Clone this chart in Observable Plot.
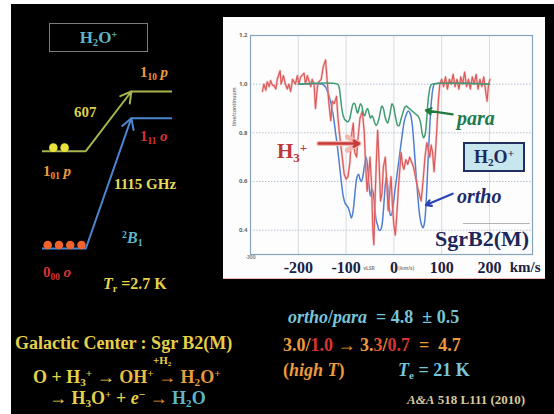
<!DOCTYPE html>
<html>
<head>
<meta charset="utf-8">
<script src="https://cdn.jsdelivr.net/npm/d3@7"></script>
<script src="https://cdn.jsdelivr.net/npm/@observablehq/plot@0.6"></script>
<style>
  body { margin: 0; background: #fff; }
  #slide { position: relative; width: 554px; height: 414px; overflow: hidden; background: #fff;
           font-family: "Liberation Serif", "DejaVu Serif", serif; font-weight: bold; }
  #black { position: absolute; left: 11px; top: 4px; right: 0; bottom: 0; background: #000; }
  #panel { position: absolute; left: 223px; top: 17px; width: 322px; height: 261px; background: #fdfdfd;
           border-bottom: 1px solid #f0b8a8; }
  .t { position: absolute; white-space: pre; line-height: 1; }
  .t sub { font-size: 0.62em; vertical-align: -0.3em; line-height: 0; }
  .t sup { font-size: 0.62em; vertical-align: 0.5em; line-height: 0; }
  .box { position: absolute; display: flex; align-items: center; justify-content: center; line-height: 1; }
  svg { position: absolute; left: 0; top: 0; }
</style>
</head>
<body>
<div id="slide">
  <div id="black"></div>
  <div id="panel"></div>
</div>
<script>
// H3+ absorption, line/continuum vs v_LSR (km/s)
const vH3 = [
  -275,-272,-268,-265,-261,-258,-254,-251,-247,-244,
  -238,-236,-231,-227,-223,-220,-216,-212,-206,-202,
  -199,-195,-188,-185,-181,-174,-171,-167,-164,-160,
  -157,-152,-148,-143,-139,-136,-132,-129,-125,-120,
  -117,-113,-108,-104,-100,-96,-92,-88,-85,-82,
  -78,-75,-71,-66,-62,-59,-56,-53,-50,-47,
  -44,-42,-39,-36,-34,-31,-28,-25,-22,-18,
  -15,-12,-9,-6,-3,0,3,6,9,12,
  15,18,21,25,29,33,37,41,45,49,
  53,57,61,65,69,72,75,78,81,84,
  87,90,93,96,100,104,108,112,116,120,
  124,128,132,136,140,144,148,152,156,160,
  164,168,172,176,180,184,188,192,195,198,201
];
const yH3 = [
  0.97,1.00,0.975,1.01,0.99,1.015,0.995,0.995,0.98,1.02,
  1.055,1.0,1.035,1.0,0.98,1.0,0.97,1.02,1.0,1.035,
  1.0,1.03,1.045,1.0,1.035,0.99,1.02,1.0,0.90,0.99,
  1.01,1.02,1.07,1.10,1.0,0.92,0.85,0.93,0.92,0.95,
  0.86,0.78,0.70,0.63,0.61,0.62,0.68,0.80,0.84,0.72,
  0.70,0.78,0.86,0.89,0.80,0.66,0.56,0.62,0.70,0.60,
  0.40,0.34,0.55,0.72,0.81,0.68,0.52,0.55,0.66,0.70,
  0.60,0.48,0.55,0.62,0.50,0.42,0.38,0.46,0.56,0.64,
  0.72,0.67,0.65,0.69,0.67,0.70,0.68,0.66,0.62,0.58,
  0.55,0.52,0.60,0.70,0.76,0.73,0.70,0.75,0.72,0.64,
  0.72,0.82,0.93,1.0,1.02,0.99,1.03,0.98,1.02,1.0,
  1.04,0.99,1.02,0.98,1.03,1.0,1.05,0.99,1.02,0.98,
  1.03,1.0,1.04,0.98,1.02,0.99,1.03,0.97,0.93,1.0,1.02
];

// ortho-H2O+ (1115 GHz) absorption
const vOrtho = [
  -200,-150,-146,-142,-138,-134,-130,-126,-122,-118,
  -114,-110,-106,-102,-98,-95,-92,-89,-86,-83,
  -80,-77,-74,-71,-68,-65,-62,-58,-55,-52,
  -49,-46,-43,-40,-37,-34,-31,-28,-25,-22,
  -19,-16,-13,-10,-7,-4,-1,2,6,10,
  14,18,22,26,30,34,38,42,46,50,
  54,58,61,64,67,70,73,76,79,82,
  85,200
];
const yOrtho = [
  1,1,0.995,0.985,0.965,0.94,0.905,0.86,0.80,0.74,
  0.67,0.60,0.54,0.51,0.50,0.49,0.47,0.45,0.47,0.52,
  0.58,0.62,0.63,0.61,0.60,0.62,0.66,0.70,0.66,0.58,
  0.54,0.57,0.55,0.49,0.44,0.42,0.40,0.40,0.42,0.48,
  0.56,0.62,0.58,0.50,0.46,0.47,0.51,0.56,0.62,0.68,
  0.74,0.80,0.85,0.875,0.89,0.88,0.84,0.75,0.64,0.54,
  0.46,0.42,0.41,0.43,0.50,0.62,0.75,0.86,0.94,0.985,
  1,1
];

// para-H2O+ (607 GHz) absorption
const vPara = [
  -200,-118,-115,-112,-109,-106,-103,-100,-97,-94,
  -91,-88,-85,-82,-79,-76,-73,-70,-67,-64,
  -61,-58,-55,-52,-49,-46,-43,-40,-37,-34,
  -31,-28,-25,-22,-19,-16,-13,-10,-7,-4,
  -1,2,5,8,11,14,17,20,23,26,
  29,32,35,38,41,44,47,50,53,56,
  59,62,65,68,71,74,77,80,200
];
const yPara = [
  1,1,0.99,0.95,0.90,0.87,0.855,0.85,0.845,0.85,
  0.87,0.90,0.92,0.92,0.90,0.88,0.90,0.92,0.91,0.88,
  0.87,0.89,0.90,0.88,0.86,0.87,0.86,0.84,0.83,0.84,
  0.86,0.89,0.91,0.90,0.87,0.85,0.84,0.86,0.89,0.92,
  0.91,0.88,0.85,0.83,0.83,0.85,0.87,0.89,0.905,0.91,
  0.905,0.90,0.895,0.89,0.885,0.88,0.875,0.87,0.86,0.84,
  0.80,0.78,0.79,0.84,0.92,0.97,0.995,1,1
];

// axis ticks
const xTicks = [-200, -100, 0, 100, 200];
const yTicks = [0.4, 0.6, 0.8, 1.0, 1.2];

// pointers from the labels to the curves (data coordinates)
const pointerName = ["H3+", "para", "ortho"];
const pointerFromV = [-157, 123, 123];
const pointerFromY = [0.756, 0.876, 0.55];
const pointerToV = [-73, 67, 67];
const pointerToY = [0.756, 0.892, 0.503];

// H2O+ rotational levels (schematic heights) and ground-state populations
const levelName = ["0_00", "1_01", "1_11", "1_10"];
const levelSpin = ["ortho", "para", "ortho", "para"];
const levelHeight = [0, 62, 83, 100];
const levelUpper = [false, false, true, true];
const groundPopulation = [4, 2]; // 0_00 (ortho), 1_01 (para)
const transitionFrom = ["0_00", "1_01"];
const transitionTo = ["1_11", "1_10"];

const spinColor = {ortho: "#4a86d0", para: "#a9b44e"};

const toRows = (vs, ys) => vs.map((v, i) => ({v, y: ys[i]}));
const h3 = toRows(vH3, yH3);
const ortho = toRows(vOrtho, yOrtho);
const para = toRows(vPara, yPara);
const pointers = pointerName.map((name, i) => ({
  name, v1: pointerFromV[i], y1: pointerFromY[i], v2: pointerToV[i], y2: pointerToY[i]
}));
const pointerColor = {"H3+": "#c63a3a", "para": "#1f7a3c", "ortho": "#2a44b8"};

const serif = "Liberation Serif, DejaVu Serif, serif";
const ink = "#1b2140";

const chart = Plot.plot({
  width: 554, height: 414,
  marginLeft: 250, marginRight: 22, marginTop: 35, marginBottom: 160,
  style: {background: "transparent", overflow: "visible"},
  x: {domain: [-300, 290]},
  y: {domain: [0.3, 1.2]},
  marks: [
    Plot.gridX(xTicks, {stroke: "#cbd4dd", strokeOpacity: 1, strokeWidth: 0.8}),
    Plot.gridY(yTicks.slice(0, 4), {stroke: "#b5c2cf", strokeOpacity: 1, strokeDasharray: "1.5,1.5"}),
    Plot.frame({stroke: "#86a4bc", strokeWidth: 1.2}),
    Plot.line(ortho, {x: "v", y: "y", stroke: "#4f7fcf", strokeWidth: 1.5, curve: "catmull-rom"}),
    Plot.line(h3, {x: "v", y: "y", stroke: "#f2a8a8", strokeWidth: 2.4, strokeOpacity: 0.6}),
    Plot.line(h3, {x: "v", y: "y", stroke: "#dd5a5a", strokeWidth: 1.2}),
    Plot.line(para, {x: "v", y: "y", stroke: "#3f9c72", strokeWidth: 1.5, curve: "catmull-rom"}),
    Plot.arrow(pointers.filter(d => d.name === "H3+"), {
      x1: "v1", y1: "y1", x2: "v2", y2: "y2", stroke: "#f3b9b0", strokeWidth: 5, headLength: 10
    }),
    Plot.arrow(pointers, {
      x1: "v1", y1: "y1", x2: "v2", y2: "y2",
      stroke: d => pointerColor[d.name], strokeWidth: d => d.name === "H3+" ? 2.6 : 2.2, headLength: 9
    }),
    Plot.axisY(yTicks, {
      tickSize: 0, tickPadding: 3, fontSize: 6, fill: "#666", label: null,
      tickFormat: d => d.toFixed(1)
    }),
    Plot.text(["line/continuum"], {frameAnchor: "left", rotate: -90, dx: -16, dy: -19, fontSize: 5, fill: "#888"}),
    Plot.axisX(xTicks, {
      tickSize: 0, tickPadding: 7, fontSize: 16, fontWeight: "bold", fontFamily: serif, fill: ink,
      label: null, tickFormat: d => String(d)
    }),
    Plot.axisX([-300], {tickSize: 0, tickPadding: 1, fontSize: 5, fill: "#888", label: null, tickFormat: d => String(d)}),
    Plot.text([{v: -52, t: "vLSR"}, {v: 26, t: "(km/s)"}], {
      x: "v", text: "t", frameAnchor: "bottom", lineAnchor: "middle", dy: 14, fontSize: 5, fill: "#888"
    }),
    Plot.text(["km/s"], {
      frameAnchor: "bottom-right", textAnchor: "end", lineAnchor: "top", dx: 8, dy: 7,
      fontSize: 15, fontWeight: "bold", fontFamily: serif, fill: ink
    })
  ]
});

// energy-level diagram
const levels = levelName.map((name, i) => ({
  name, spin: levelSpin[i], E: levelHeight[i],
  x1: levelUpper[i] ? 2.05 : 0, x2: levelUpper[i] ? 3 : 1
}));
const byName = Object.fromEntries(levels.map(d => [d.name, d]));
const transitions = transitionFrom.map((from, i) => ({
  spin: byName[from].spin,
  x1: byName[from].x2, y1: byName[from].E,
  x2: byName[transitionTo[i]].x1, y2: byName[transitionTo[i]].E
}));
const dots = [];
groundPopulation.forEach((n, k) => {
  const lev = byName[transitionFrom[k]];
  const start = lev.spin === "ortho" ? 0.12 : 0.25;
  for (let i = 0; i < n; ++i) dots.push({x: start + i * 0.26, E: lev.E, spin: lev.spin});
});

const diagram = Plot.plot({
  width: 230, height: 300,
  marginLeft: 42, marginRight: 58, marginTop: 91, marginBottom: 52,
  style: {background: "transparent", overflow: "visible"},
  x: {domain: [0, 3], axis: null},
  y: {domain: [0, 100], axis: null},
  marks: [
    Plot.ruleY(levels, {y: "E", x1: "x1", x2: "x2", stroke: d => spinColor[d.spin], strokeWidth: 2}),
    Plot.arrow(transitions, {
      x1: "x1", y1: "y1", x2: "x2", y2: "y2",
      stroke: d => spinColor[d.spin], strokeWidth: 2, headLength: 9
    }),
    Plot.dot(dots, {
      x: "x", y: "E", r: 4.3, dy: -3.5,
      fill: d => d.spin === "ortho" ? "#f0642c" : "#e8e23c"
    })
  ]
});

const slide = document.getElementById("slide");
slide.appendChild(diagram);
slide.appendChild(chart);

// slide text; cy is the vertical centre of capitals
function label(html, x, cy, size, color, extra = "") {
  const el = document.createElement("div");
  el.className = "t";
  el.innerHTML = html;
  el.style.cssText = `left:${x}px;top:${cy - 0.51 * size}px;font-size:${size}px;color:${color};${extra}`;
  slide.appendChild(el);
  return el;
}
function box(html, x, y, w, h, size, color, border, bg) {
  const el = document.createElement("div");
  el.className = "box t";
  el.innerHTML = `<span>${html}</span>`;
  el.style.cssText = `left:${x}px;top:${y}px;width:${w}px;height:${h}px;font-size:${size}px;color:${color};border:${border};background:${bg};box-sizing:border-box;`;
  slide.appendChild(el);
}

const yellow = "#e4d24a", orange = "#eb9a3c", red = "#d83232", teal = "#5eb6c6";

// level diagram labels
box("H<sub>2</sub>O<sup>+</sup>", 49, 23, 99, 29, 17, teal, "1.5px solid #7c7c7c", "transparent");
label("1<sub>10</sub> <i>p</i>", 140, 73, 15, orange);
label("607", 74, 112.5, 15, "#dcd24c");
label("1<sub>11</sub> <i>o</i>", 140, 136.5, 15, red);
label("1<sub>01</sub> <i>p</i>", 43, 171.5, 15, orange);
label("1115 GHz", 114, 184.5, 15, "#e4dc5a");
label("<sup>2</sup><i>B</i><sub>1</sub>", 122, 238, 16, teal);
label("0<sub>00</sub> <i>o</i>", 43, 273, 15, red);
label("<i>T</i><sub>r</sub> =2.7 K", 103, 284.5, 16, yellow);

// formation chemistry
label("Galactic Center : Sgr B2(M)", 15, 343, 18, "#e6cf48");
label("+H<sub>2</sub>", 153, 361, 11, yellow);
label(`<span style="color:${yellow}">O + H<sub>3</sub><sup>+</sup> → </span><span style="color:#edbb3e">OH<sup>+</sup> </span><span style="color:${orange}">→ H<sub>2</sub>O<sup>+</sup></span>`, 33, 377, 18, yellow);
label(`<span style="color:${yellow}">→ H<sub>3</sub>O<sup>+</sup> + <i>e</i><sup>−</sup> </span><span style="color:${orange}">→ </span><span style="color:${teal}">H<sub>2</sub>O</span>`, 49, 398, 18, yellow);

// results
label("<i>ortho</i>/<i>para</i>  = 4.8  ± 0.5", 288, 317, 18, "#78c4d8");
label(`3.0/<span style="color:${red}">1.0</span> → 3.<span style="color:#e4542e">3</span>/<span style="color:${red}">0.7</span>  =  4.7`, 283, 345, 18, orange);
label("(<i>high T</i>)", 283, 370, 18, orange);
label("<i>T</i><sub>e</sub> = 21 K", 398, 370, 18, "#78c4d8");
label("<i>A&amp;A</i> 518 L111 (2010)", 407, 400, 13, "#d8c898");

// spectrum annotations
label("H<sub>3</sub><sup>+</sup>", 277, 152, 21, "#c03838");
label("<i>para</i>", 457, 119.5 - 0.09 * 20, 20, "#1d7a50");
box("H<sub>2</sub>O<sup>+</sup>", 463, 142, 62, 30, 18, "#1c2a5e", "2px solid #223060", "#c8e6ee");
label("<i>ortho</i>", 457, 196.5, 20, "#1e2a6a");
const rule = document.createElement("div");
rule.style.cssText = "position:absolute;left:463px;top:223px;width:67px;height:1px;background:#b4b4b4;";
slide.appendChild(rule);
label("SgrB2(M)", 435, 239, 22, "#1c2658");
</script>
</body>
</html>
